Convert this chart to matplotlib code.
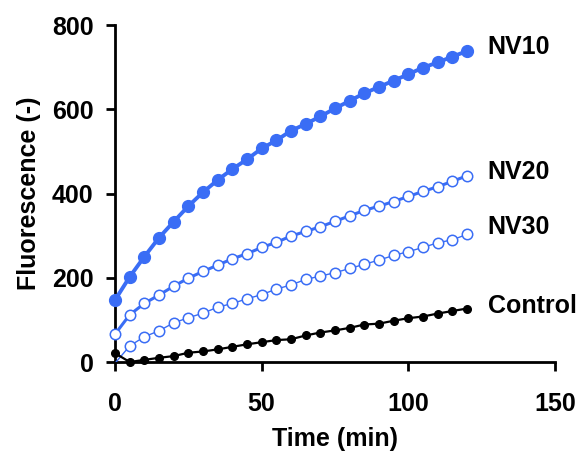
import numpy as np
import matplotlib
matplotlib.use("Agg")
import matplotlib.pyplot as plt

plt.rcParams['font.family'] = ['Liberation Sans', 'DejaVu Sans']
plt.rcParams['font.weight'] = 'bold'

time_min = np.arange(0, 121, 5)

nv10 = [147, 202, 250, 295, 333, 370, 403, 432, 458, 481, 507, 526, 549,
        565, 583, 602, 620, 638, 653, 668, 683, 699, 711, 725, 738]
nv20 = [66, 112, 139, 159, 180, 199, 215, 230, 245, 257, 272, 284, 299,
        310, 321, 334, 347, 360, 370, 381, 393, 405, 416, 429, 442]
nv30 = [-3, 38, 60, 74, 93, 105, 116, 130, 139, 150, 160, 173, 183,
        196, 204, 212, 222, 232, 242, 253, 262, 272, 283, 290, 303]
control = [21, 0, 5, 10, 14, 22, 25, 30, 36, 42, 47, 52, 54,
           63, 70, 75, 81, 89, 91, 98, 104, 108, 115, 121, 127]

series_names = ["NV10", "NV20", "NV30", "Control"]
label_y = [748, 450, 320, 132]

blue = '#3a6df5'

fig = plt.figure(figsize=(5.79, 4.58), dpi=100)
ax = fig.add_axes([0.1986, 0.2096, 0.76, 0.7358])

ax.plot(time_min, nv10, color=blue, lw=2.8, marker='o', ms=8.5,
        mfc=blue, mec=blue, clip_on=False, zorder=4)
ax.plot(time_min, nv20, color=blue, lw=2.2, marker='o', ms=7.5,
        mfc='white', mec=blue, mew=1.1, clip_on=False, zorder=3)
ax.plot(time_min, nv30, color=blue, lw=1.0, marker='o', ms=7.5,
        mfc='white', mec=blue, mew=1.1, markevery=slice(1, None), zorder=3)
ax.plot(time_min, control, color='black', lw=1.6, marker='o', ms=5.5,
        mfc='black', mec='black', clip_on=False, zorder=5)

for name, yv in zip(series_names, label_y):
    ax.text(127, yv, name, fontsize=18, fontweight='bold', va='center', ha='left')

ax.set_xlim(0, 150)
ax.set_ylim(0, 800)
ax.set_xticks([0, 50, 100, 150])
ax.set_yticks([0, 200, 400, 600, 800])

for side in ['top', 'right']:
    ax.spines[side].set_visible(False)
for side in ['left', 'bottom']:
    ax.spines[side].set_linewidth(2)

ax.tick_params(axis='both', direction='out', length=6.5, width=2, labelsize=18)
ax.tick_params(axis='x', pad=15)
ax.tick_params(axis='y', pad=9)
for lab in ax.get_xticklabels() + ax.get_yticklabels():
    lab.set_fontweight('bold')

ax.set_xlabel("Time (min)", fontsize=18, fontweight='bold', labelpad=8)
ax.set_ylabel("Fluorescence (-)", fontsize=18, fontweight='bold', labelpad=8)

fig.savefig("out.png", dpi=100)
